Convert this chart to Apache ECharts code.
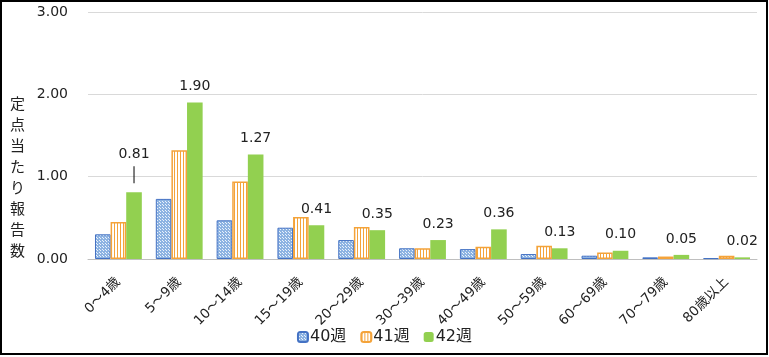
<!DOCTYPE html>
<html><head><meta charset="utf-8">
<script src="https://cdn.jsdelivr.net/npm/echarts@6/dist/echarts.min.js"></script>
<style>
html,body{margin:0;padding:0;background:#fff;}
#c{width:769px;height:357px;position:relative;}
#frame{position:absolute;left:0;top:0;width:768px;height:355px;box-sizing:border-box;border:2px solid #000;pointer-events:none;}
</style></head>
<body>
<div id="c"></div><div id="frame"></div>
<script>
const categories = ['0～4歳','5～9歳','10～14歳','15～19歳','20～29歳','30～39歳','40～49歳','50～59歳','60～69歳','70～79歳','80歳以上'];
const week40 = [0.30,0.73,0.47,0.38,0.23,0.13,0.12,0.06,0.04,0.02,0.01];
const week41 = [0.45,1.32,0.94,0.51,0.39,0.13,0.15,0.16,0.08,0.03,0.04];
const week42 = [0.81,1.90,1.27,0.41,0.35,0.23,0.36,0.13,0.10,0.05,0.02];
const seriesNames = ['40週','41週','42週'];
const yName = '定点当たり報告数';

function dotPattern(){
  const c=document.createElement('canvas');c.width=3;c.height=3;
  const x=c.getContext('2d');x.fillStyle='#8DB3E2';x.fillRect(0,0,3,3);
  x.fillStyle='#EAF2FB';x.fillRect(1,1,1,1);x.fillRect(0,0,1,1);
  return {image:c,repeat:'repeat'};
}
function stripePattern(){
  const c=document.createElement('canvas');c.width=3;c.height=3;
  const x=c.getContext('2d');x.fillStyle='#fff';x.fillRect(0,0,3,3);
  x.fillStyle='#F4A33A';x.fillRect(0,0,1,3);
  return {image:c,repeat:'repeat'};
}
const font='"DejaVu Sans","Noto Sans CJK JP",sans-serif';
const jfont='"Noto Sans CJK JP",sans-serif';
const chart=echarts.init(document.getElementById('c'));
chart.setOption({
  animation:false,
  textStyle:{fontFamily:font},
  grid:{left:88,right:12,top:12,bottom:98},
  legend:{bottom:7,left:'center',itemWidth:10,itemHeight:10,itemGap:14,
    textStyle:{fontSize:16,color:'#222',fontFamily:font,padding:[0,0,0,-3]},
    data:seriesNames},
  xAxis:{type:'category',data:categories,
    axisLine:{lineStyle:{color:'#BFBFBF',width:1}},axisTick:{show:false},
    axisLabel:{rotate:45,fontSize:13.5,color:'#222',margin:21,interval:0,fontFamily:font}},
  yAxis:{type:'value',min:0,max:3,interval:1,
    axisLabel:{formatter:v=>v.toFixed(2),fontSize:14,color:'#222',margin:20,fontFamily:font},
    splitLine:{lineStyle:{color:'#D9D9D9'}}},
  graphic:[{type:'text',left:10,top:93,style:{text:yName.split('').join('\n'),lineHeight:21,fill:'#222',font:'15px '+jfont,textAlign:'center'}}],
  series:[
    {name:seriesNames[0],type:'bar',data:week40,barGap:'0%',barCategoryGap:'23%',
      itemStyle:{color:dotPattern(),borderColor:'#4472C4',borderWidth:1}},
    {name:seriesNames[1],type:'bar',data:week41,
      itemStyle:{color:stripePattern(),borderColor:'#F4A33A',borderWidth:1.5}},
    {name:seriesNames[2],type:'bar',data:week42,
      itemStyle:{color:'#92D050'},
      label:{show:true,position:'top',distance:9,fontSize:14,color:'#222',fontFamily:font,
        formatter:p=>p.dataIndex===0?'{v|'+p.value.toFixed(2)+'}\n{l|}':p.value.toFixed(2),
        rich:{v:{fontSize:14,color:'#222',fontFamily:font,lineHeight:24},
              l:{width:1,height:17,lineHeight:17,backgroundColor:'#000'}}}}
  ]
});
</script></body></html>
